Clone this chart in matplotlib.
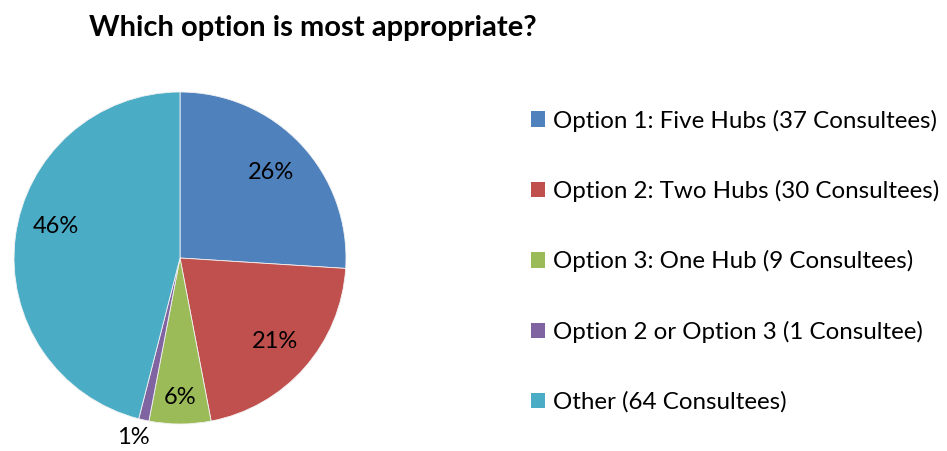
import numpy as np
import matplotlib.pyplot as plt
from matplotlib.patches import Patch

plt.rcParams['font.family'] = ['Lato', 'DejaVu Sans']

# survey answers
options = [
    "Option 1: Five Hubs (37 Consultees)",
    "Option 2: Two Hubs (30 Consultees)",
    "Option 3: One Hub (9 Consultees)",
    "Option 2 or Option 3 (1 Consultee)",
    "Other (64 Consultees)",
]
percent = [26, 21, 6, 1, 46]
colors = ["#4F81BD", "#C0504D", "#9BBB59", "#8064A2", "#4BACC6"]
# where each percentage sits: fraction of radius and angle nudge (degrees)
label_dist = [0.75, 0.76, 0.84, 1.12, 0.77]
label_turn = [0, 0, 0, -2, -7]

fig = plt.figure(figsize=(9.47, 4.51), dpi=100)
fig.text(0.33, 0.937, "Which option is most appropriate?", ha="center", va="center",
         fontsize=21, fontweight="bold")

ax = fig.add_axes([14 / 947, 27 / 451, 332 / 947, 332 / 451])
wedges, _ = ax.pie(percent, colors=colors, startangle=90, counterclock=False,
                   wedgeprops=dict(edgecolor="#f2f2f2", linewidth=0.6))
ax.set_xlim(-1, 1)
ax.set_ylim(-1, 1)
ax.set_aspect("equal")

for w, p, d, t in zip(wedges, percent, label_dist, label_turn):
    mid = np.deg2rad((w.theta1 + w.theta2) / 2 + t)
    ax.text(d * np.cos(mid), d * np.sin(mid), f"{p}%", ha="center", va="center",
            fontsize=17, clip_on=False)

handles = [Patch(facecolor=c, edgecolor="none") for c in colors]
fig.legend(handles, options, loc="center left", bbox_to_anchor=(0.5375, 0.421),
           frameon=False, fontsize=17.4, labelspacing=2.0, handlelength=0.6,
           handleheight=0.6, handletextpad=0.3)

fig.savefig("out.png", dpi=100)
